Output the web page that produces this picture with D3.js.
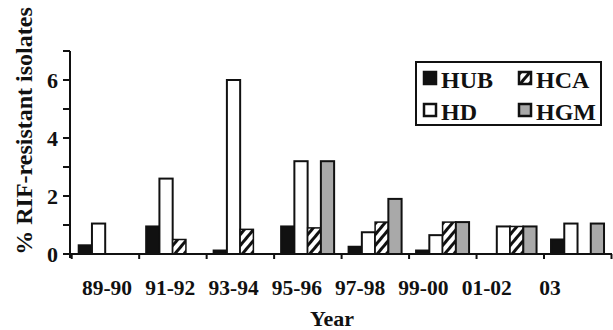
<!DOCTYPE html>
<html>
<head>
<meta charset="utf-8">
<script src="https://d3js.org/d3.v7.min.js"></script>
<style>
  body { margin: 0; background: #fff; }
  text { font-family: "Liberation Serif", "Times New Roman", serif; font-weight: bold; fill: #111; }
</style>
</head>
<body>
<div id="chart"></div>
<script>
// Data
var years = ["89-90", "91-92", "93-94", "95-96", "97-98", "99-00", "01-02", "03"];
var seriesNames = ["HUB", "HD", "HCA", "HGM"];
var hub = [0.3, 0.95, 0.12, 0.95, 0.25, 0.12, 0, 0.5];
var hd  = [1.05, 2.6, 6.0, 3.2, 0.75, 0.65, 0.95, 1.05];
var hca = [0, 0.5, 0.85, 0.9, 1.1, 1.1, 0.95, 0];
var hgm = [0, 0, 0, 3.2, 1.9, 1.1, 0.95, 1.05];
var yTicks = [0, 1, 2, 3, 4, 5, 6, 7];
var yLabels = [0, 2, 4, 6];

var W = 613, H = 330;
var values = {HUB: hub, HD: hd, HCA: hca, HGM: hgm};

var svg = d3.select("#chart").append("svg")
	.attr("width", W)
	.attr("height", H);

// hatch for HCA
var defs = svg.append("defs");
defs.append("pattern")
	.attr("id", "hatch")
	.attr("patternUnits", "userSpaceOnUse")
	.attr("width", 7)
	.attr("height", 7)
	.attr("patternTransform", "rotate(40)")
	.call(function(p){
		p.append("rect").attr("width", 7).attr("height", 7).attr("fill", "#fff");
		p.append("rect").attr("x", 0).attr("width", 3).attr("height", 7).attr("fill", "#111");
	});

var fills = {HUB: "#111", HD: "#fff", HCA: "url(#hatch)", HGM: "#a9a9a9"};

var x = d3.scaleBand().domain(years).range([71.7, 611.5]);
var xs = d3.scaleBand().domain(seriesNames).range([7, 60]);
var y = d3.scaleLinear().domain([0, 7]).range([254, 51]);

// bars
var groups = svg.selectAll(".yr")
	.data(years)
	.enter()
	.append("g")
	.attr("class", "yr")
	.attr("transform", function(d){ return "translate(" + x(d) + ",0)"; });

groups.selectAll("rect")
	.data(function(d, i){
		return seriesNames.map(function(s){ return {s: s, v: values[s][i]}; })
			.filter(function(o){ return o.v > 0; });
	})
	.enter()
	.append("rect")
	.attr("x", function(d){ return xs(d.s); })
	.attr("width", xs.bandwidth())
	.attr("y", function(d){ return y(d.v); })
	.attr("height", function(d){ return y(0) - y(d.v); })
	.attr("fill", function(d){ return fills[d.s]; })
	.attr("stroke", "#111")
	.attr("stroke-width", function(d){ return d.s == "HCA" ? 1.5 : 2; });

// y axis
svg.append("line")
	.attr("x1", 70).attr("x2", 70)
	.attr("y1", y(7)).attr("y2", y(0) + 4)
	.attr("stroke", "#111").attr("stroke-width", 2);

svg.selectAll(".ytick")
	.data(yTicks)
	.enter()
	.append("line")
	.attr("class", "ytick")
	.attr("x1", 63).attr("x2", 70)
	.attr("y1", function(d){ return y(d); })
	.attr("y2", function(d){ return y(d); })
	.attr("stroke", "#111").attr("stroke-width", 2);

svg.selectAll(".ylab")
	.data(yLabels)
	.enter()
	.append("text")
	.attr("class", "ylab")
	.attr("x", 58)
	.attr("y", function(d){ return y(d); })
	.attr("dy", "0.35em")
	.attr("text-anchor", "end")
	.style("font-size", "22px")
	.text(function(d){ return d; });

// x axis
svg.append("line")
	.attr("x1", 68).attr("x2", 612)
	.attr("y1", y(0)).attr("y2", y(0))
	.attr("stroke", "#111").attr("stroke-width", 2);

svg.selectAll(".xtick")
	.data(years.concat(["end"]))
	.enter()
	.append("line")
	.attr("class", "xtick")
	.attr("x1", function(d){ return d == "end" ? x.range()[1] : x(d); })
	.attr("x2", function(d){ return d == "end" ? x.range()[1] : x(d); })
	.attr("y1", y(0)).attr("y2", y(0) + 5)
	.attr("stroke", "#111").attr("stroke-width", 2);

// labels were typed as one line in the original, so they drift left of the bands
var xl = d3.scalePoint().domain(years).range([107, 550]);
svg.selectAll(".xlab")
	.data(years)
	.enter()
	.append("text")
	.attr("class", "xlab")
	.attr("x", function(d){ return xl(d); })
	.attr("y", 295)
	.attr("text-anchor", "middle")
	.style("font-size", "21.5px")
	.text(function(d){ return d; });

svg.append("text")
	.attr("x", 332)
	.attr("y", 326)
	.attr("text-anchor", "middle")
	.style("font-size", "22px")
	.text("Year");

svg.append("text")
	.attr("transform", "translate(32,131) rotate(-90)")
	.attr("text-anchor", "middle")
	.style("font-size", "24px")
	.text("% RIF-resistant isolates");

// legend
var leg = svg.append("g").attr("transform", "translate(416,62)");
leg.append("rect")
	.attr("width", 185).attr("height", 63)
	.attr("fill", "#fff").attr("stroke", "#111").attr("stroke-width", 2);

var legItems = [
	{s: "HUB", col: 0, row: 0},
	{s: "HCA", col: 1, row: 0},
	{s: "HD", col: 0, row: 1},
	{s: "HGM", col: 1, row: 1}
];
var li = leg.selectAll(".li")
	.data(legItems)
	.enter()
	.append("g")
	.attr("class", "li")
	.attr("transform", function(d){ return "translate(" + (8 + d.col * 95) + "," + (10 + d.row * 32) + ")"; });

li.append("rect")
	.attr("width", 12).attr("height", 12)
	.attr("fill", function(d){ return d.s == "HCA" ? "url(#hatch)" : fills[d.s]; })
	.attr("stroke", "#111").attr("stroke-width", 2.5);

li.append("text")
	.attr("x", 17)
	.attr("y", 16)
	.style("font-size", "24px")
	.text(function(d){ return d.s; });
</script>
</body>
</html>
